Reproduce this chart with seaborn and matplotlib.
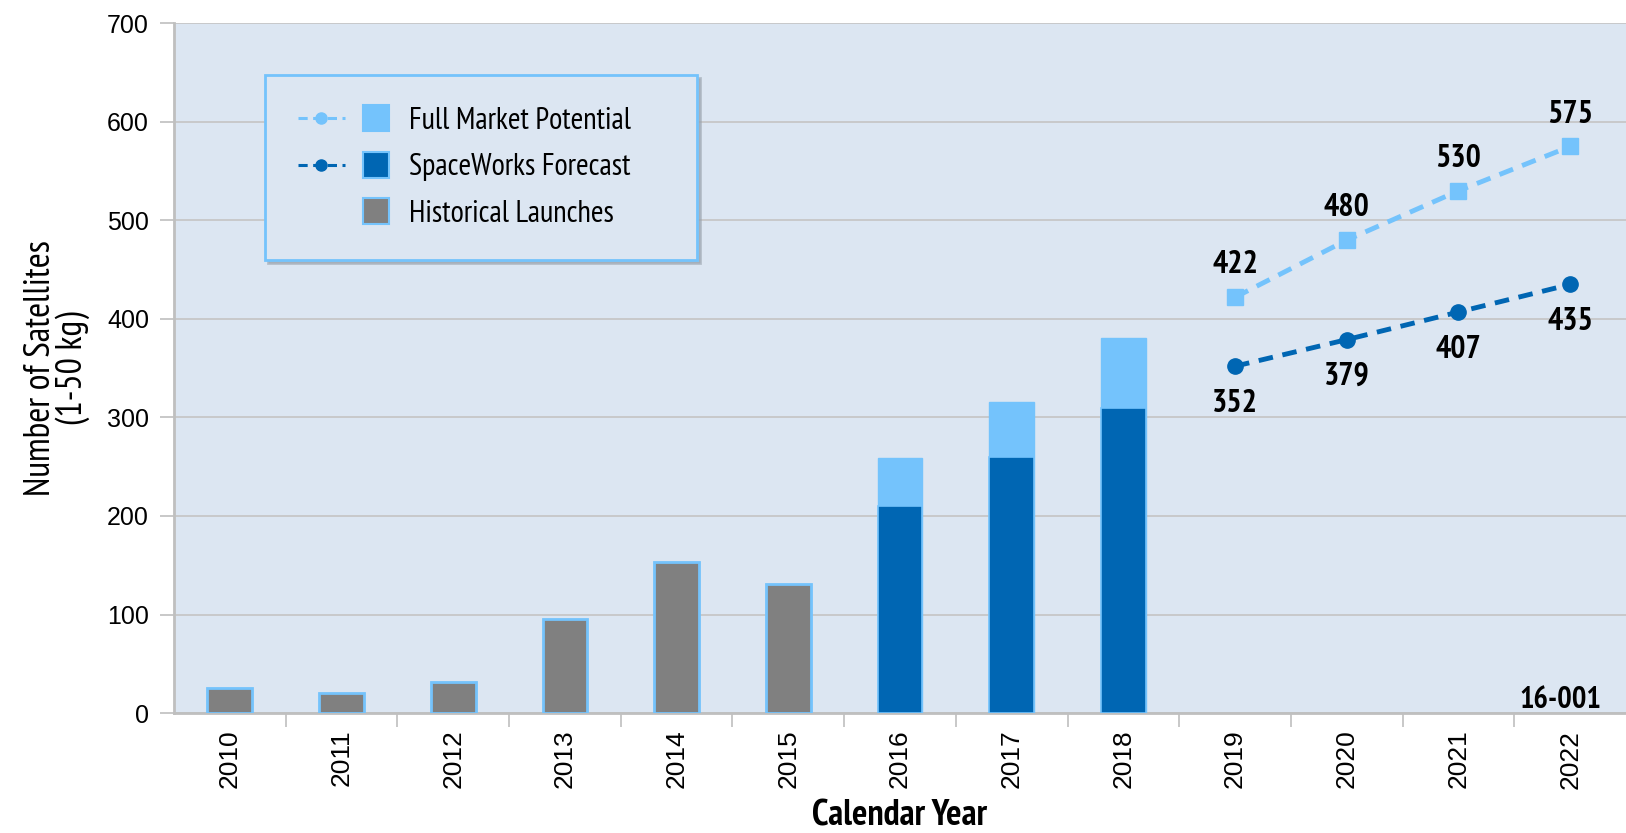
import matplotlib
matplotlib.use("Agg")
import matplotlib.pyplot as plt
import seaborn as sns
from matplotlib import font_manager
from matplotlib.legend_handler import HandlerBase
from matplotlib.lines import Line2D
from matplotlib.patches import Rectangle, Patch

# ---------------- data ----------------
years = ["2010", "2011", "2012", "2013", "2014", "2015", "2016",
         "2017", "2018", "2019", "2020", "2021", "2022"]
hist_years = ["2010", "2011", "2012", "2013", "2014", "2015"]
hist_values = [25, 20, 32, 95, 153, 131]
fc_bar_years = ["2016", "2017", "2018"]
fc_bar_values = [210, 260, 310]
full_bar_values = [259, 316, 381]
line_years = ["2019", "2020", "2021", "2022"]
full_line = [422, 480, 530, 575]
fc_line = [352, 379, 407, 435]
yticks = [0, 100, 200, 300, 400, 500, 600, 700]
legend_labels = ["Full Market Potential", "SpaceWorks Forecast", "Historical Launches"]

LIGHT = "#74c3fc"
DARK = "#0066b3"
GREY = "#808080"
BG = "#dce6f2"

# ---------------- fonts ----------------
ttf = font_manager.fontManager.ttflist
all_fams = {f.name for f in ttf}
NARROW = None
for cand in ["Arial Narrow", "Liberation Sans Narrow", "PT Sans Narrow",
             "Roboto Condensed", "Archivo Narrow", "Asap Condensed", "Barlow Condensed"]:
    if cand in all_fams:
        NARROW = cand
        break
NSTRETCH = "normal"
if NARROW is None:
    NARROW = "DejaVu Sans"
    NSTRETCH = "condensed"
REG = "Liberation Sans" if "Liberation Sans" in all_fams else "DejaVu Sans"

sns.set_theme(style="white")
plt.rcParams["font.family"] = [REG, "DejaVu Sans"]
for k in ["text.color", "axes.labelcolor", "xtick.color", "ytick.color"]:
    plt.rcParams[k] = "black"

nfont = dict(fontfamily=[NARROW, "DejaVu Sans"], fontstretch=NSTRETCH)

fig = plt.figure(figsize=(16.26, 8.33), dpi=100)
ax = fig.add_axes([0.107, 0.144, 0.893, 0.828])
ax.set_facecolor(BG)

# bars
sns.barplot(x=fc_bar_years, y=full_bar_values, order=years, color=LIGHT,
            width=0.4, edgecolor=LIGHT, linewidth=1, saturation=1, ax=ax, zorder=3)
sns.barplot(x=fc_bar_years, y=fc_bar_values, order=years, color=DARK,
            width=0.4, edgecolor=LIGHT, linewidth=1.2, saturation=1, ax=ax, zorder=3)
sns.barplot(x=hist_years, y=hist_values, order=years, color=GREY,
            width=0.4, edgecolor=LIGHT, linewidth=2, saturation=1, ax=ax, zorder=3)

# lines
n0 = len(ax.lines)
sns.pointplot(x=line_years, y=full_line, order=years, color=LIGHT, markers="s",
              linestyles="--", errorbar=None, ax=ax, markersize=11, linewidth=3.5)
sns.pointplot(x=line_years, y=fc_line, order=years, color=DARK, markers="o",
              linestyles="--", errorbar=None, ax=ax, markersize=11, linewidth=3.5)
for ln in ax.lines[n0:]:
    ln.set_dashes((3, 2))
    ln.set_zorder(4)
    ln.set_markeredgewidth(1)

# data labels
pos = {y: i for i, y in enumerate(years)}
for y, v in zip(line_years, full_line):
    ax.annotate(str(v), (pos[y], v), xytext=(0, 23), textcoords="offset points",
                ha="center", va="center", fontsize=23, fontweight="bold",
                color="black", zorder=5, **nfont)
for y, v in zip(line_years, fc_line):
    ax.annotate(str(v), (pos[y], v), xytext=(0, -27), textcoords="offset points",
                ha="center", va="center", fontsize=23, fontweight="bold",
                color="black", zorder=5, **nfont)

# axes styling
ax.set_xlim(-0.5, len(years) - 0.5)
ax.set_ylim(0, 700)
ax.set_yticks(yticks)
ax.set_yticklabels([str(t) for t in yticks], fontsize=18)
ax.yaxis.grid(True, color="#c4c4c4", linewidth=1.2)
ax.set_axisbelow(True)
ax.set_xticks(range(len(years)))
ax.set_xticklabels(years, rotation=90, fontsize=19)
ax.set_xticks([i + 0.5 for i in range(len(years) - 1)], minor=True)
ax.tick_params(axis="x", which="major", length=0, pad=12)
ax.tick_params(axis="x", which="minor", length=10, color="#bfbfbf", width=1.2, bottom=True)
ax.tick_params(axis="y", which="major", length=10, color="#bfbfbf", width=1.2, left=True, pad=8)
for s in ["top", "right"]:
    ax.spines[s].set_visible(False)
for s in ["left", "bottom"]:
    ax.spines[s].set_color("#bfbfbf")
    ax.spines[s].set_linewidth(2)

ax.set_xlabel("Calendar Year", fontsize=26, fontweight="bold", labelpad=8, **nfont)
ax.set_ylabel("Number of Satellites\n(1-50 kg)", fontsize=26, fontweight="normal",
              labelpad=12, linespacing=0.95, **nfont)

ax.text(0.955, 0.008, "16-001", transform=ax.transAxes, ha="center", va="baseline",
        fontsize=22, fontweight="bold", **nfont)


# legend
class LineSquareHandler(HandlerBase):
    def __init__(self, color, show_line):
        super().__init__()
        self.color = color
        self.show_line = show_line

    def create_artists(self, legend, orig_handle, xdescent, ydescent, width, height,
                       fontsize, trans):
        x0 = -xdescent
        yc = -ydescent + height / 2
        arts = []
        if self.show_line:
            ln = Line2D([x0, x0 + width * 0.52], [yc, yc], color=self.color, lw=2.2,
                        dashes=(3, 1.8))
            mk = Line2D([x0 + width * 0.26], [yc], marker="o", markersize=8,
                        color=self.color, lw=0)
            ln.set_transform(trans)
            mk.set_transform(trans)
            arts += [ln, mk]
        sq = fontsize * 0.85
        r = Rectangle((x0 + width - sq, yc - sq / 2), sq, sq, facecolor=self.color,
                      edgecolor=LIGHT, linewidth=1.5, transform=trans)
        arts.append(r)
        return arts


h_full = Patch(color=LIGHT)
h_fc = Patch(color=DARK)
h_hist = Patch(color=GREY)
leg = ax.legend([h_full, h_fc, h_hist], legend_labels, loc="upper left",
                bbox_to_anchor=(0.063, 0.658, 0.2975, 0.267), mode="expand",
                borderaxespad=0,
                handler_map={h_full: LineSquareHandler(LIGHT, True),
                             h_fc: LineSquareHandler(DARK, True),
                             h_hist: LineSquareHandler(GREY, False)},
                prop={"family": [NARROW, "DejaVu Sans"], "stretch": NSTRETCH, "size": 22},
                handlelength=3.0, handletextpad=0.65, labelspacing=0.6, borderpad=1.05,
                frameon=True, fancybox=False, shadow={"color": "#9aa3ad", "alpha": 0.6},
                facecolor=BG, edgecolor=LIGHT, framealpha=1)
leg.get_frame().set_linewidth(2)
for t in leg.get_texts():
    t.set_color("black")

fig.savefig("out.png", dpi=100, facecolor="white")
